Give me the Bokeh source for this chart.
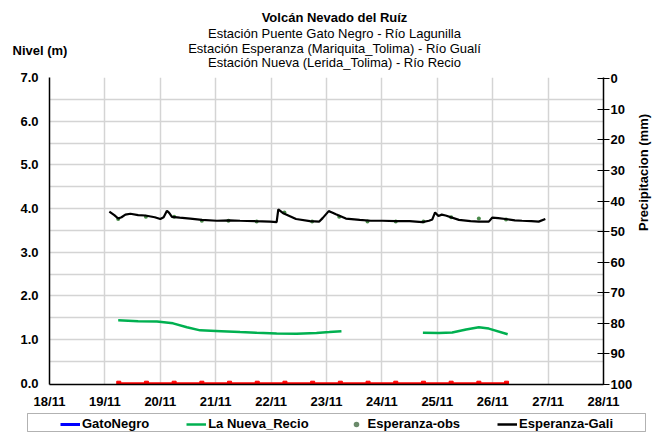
import math
from bokeh.plotting import figure
from bokeh.layouts import column, row
from bokeh.models import (Range1d, LinearAxis, FixedTicker, Legend, LegendItem,
                          NumeralTickFormatter, Label, BoxAnnotation)
from bokeh.embed import file_html
from bokeh.resources import INLINE

NaN = float("nan")

# ---- data ----
day_ticks = [18, 19, 20, 21, 22, 23, 24, 25, 26, 27, 28]
day_labels = ["18/11", "19/11", "20/11", "21/11", "22/11", "23/11", "24/11",
              "25/11", "26/11", "27/11", "28/11"]
level_ticks = [0, 1, 2, 3, 4, 5, 6, 7]
precip_ticks = [0, 10, 20, 30, 40, 50, 60, 70, 80, 90, 100]

gali_day = [19.08, 19.17, 19.24, 19.30, 19.37, 19.46, 19.60, 19.73, 19.90, 20.00,
            20.06, 20.12, 20.16, 20.21, 20.35, 20.54, 20.75, 21.02, 21.25, 21.44,
            21.70, 21.98, 22.10, 22.13, 22.17, 22.21, 22.45, 22.70, 22.87, 22.93,
            23.04, 23.10, 23.17, 23.35, 23.60, 23.80, 24.01, 24.25, 24.50, 24.73,
            24.85, 24.91, 24.96, 25.02, 25.08, 25.15, 25.39, 25.60, 25.75, 25.93,
            25.99, 26.10, 26.23, 26.40, 26.53, 26.70, 26.83, 26.95]
gali_level = [3.93, 3.85, 3.77, 3.80, 3.86, 3.88, 3.85, 3.84, 3.80, 3.76,
              3.80, 3.95, 3.90, 3.81, 3.79, 3.77, 3.74, 3.72, 3.73, 3.72,
              3.71, 3.70, 3.69, 3.98, 3.94, 3.90, 3.76, 3.71, 3.70, 3.78,
              3.94, 3.91, 3.87, 3.77, 3.74, 3.72, 3.72, 3.71, 3.71, 3.69,
              3.72, 3.75, 3.91, 3.83, 3.86, 3.84, 3.74, 3.71, 3.70, 3.70,
              3.79, 3.78, 3.76, 3.73, 3.72, 3.71, 3.70, 3.76]

obs_day = [19.24, 19.74, 20.25, 20.75, 21.23, 21.74, 22.24, 22.74, 23.23, 23.74,
           24.25, 24.75, 25.25, 25.75, 26.24]
obs_level = [3.76, 3.81, 3.81, 3.72, 3.72, 3.70, 3.91, 3.70, 3.81, 3.70,
             3.70, 3.70, 3.80, 3.77, 3.75]

recio_day = [19.24, 19.60, 19.94, 20.23, 20.48, 20.72, 21.10, 21.44, 21.74, 22.10,
             22.46, 22.82, 23.05, 23.27, NaN, 24.74, 25.03, 25.27, 25.52, 25.75,
             25.93, 26.27]
recio_level = [1.44, 1.42, 1.41, 1.37, 1.28, 1.21, 1.19, 1.17, 1.155, 1.14,
               1.13, 1.15, 1.17, 1.19, NaN, 1.155, 1.15, 1.16, 1.23, 1.28,
               1.25, 1.12]

zero_day = [19.25, 19.75, 20.25, 20.75, 21.25, 21.75, 22.25, 22.75, 23.25, 23.75,
            24.25, 24.75, 25.25, 25.75, 26.25]
zero_level = [0, 0, 0, 0, 0, 0, 0, 0, 0, 0, 0, 0, 0, 0, 0]

gato_day = [NaN]      # no GatoNegro readings in this period
gato_level = [NaN]

series_names = ["GatoNegro", "La Nueva_Recio", "Esperanza-obs", "Esperanza-Gali"]
title_lines = ["Volcán Nevado del Ruíz",
               "Estación Puente Gato Negro - Río Lagunilla",
               "Estación Esperanza (Mariquita_Tolima) - Río Gualí",
               "Estación Nueva (Lerida_Tolima) - Río Recio"]

FONT = "Liberation Sans"
W = 661
HEAD_H = 70
MAIN_H = 342
LEG_H = 435 - HEAD_H - MAIN_H


def bare(h):
    f = figure(width=W, height=h, output_backend="svg", toolbar_location=None,
               x_axis_type=None, y_axis_type=None,
               min_border_left=0, min_border_right=0, min_border_top=0, min_border_bottom=0)
    f.outline_line_color = None
    f.xgrid.visible = False
    f.ygrid.visible = False
    f.title.visible = False
    return f


# ---------------- header (titles) ----------------
head = bare(HEAD_H)
head.x_range = Range1d(0, W)
head.y_range = Range1d(HEAD_H, 0)
for i, (t, ty) in enumerate(zip(title_lines, [17, 32.5, 47.5, 61.5])):
    head.add_layout(Label(x=334, y=ty, text=t, text_align="center", text_baseline="middle",
                          text_font=FONT, text_font_size="13px",
                          text_font_style="bold" if i == 0 else "normal", text_color="black"))
head.add_layout(Label(x=12, y=50, text="Nivel (m)", text_align="left", text_baseline="middle",
                      text_font=FONT, text_font_size="13px", text_font_style="bold",
                      text_color="black"))

# ---------------- main chart ----------------
p = figure(width=W, height=MAIN_H, output_backend="svg", toolbar_location=None,
           x_range=Range1d(18, 28), y_range=Range1d(-0.03, 7),
           min_border_left=49, min_border_right=55, min_border_top=7, min_border_bottom=28)
p.outline_line_color = None
p.background_fill_color = "white"
p.border_fill_color = "white"
p.title.visible = False

p.xgrid.ticker = FixedTicker(ticks=day_ticks)
p.ygrid.ticker = FixedTicker(ticks=[0.5, 1, 1.5, 2, 2.5, 3, 3.5, 4, 4.5, 5, 5.5, 6, 6.5, 7])
for g in (p.xgrid, p.ygrid):
    g.grid_line_color = "#d4d4d4"
    g.grid_line_width = 1.5

xa = p.xaxis[0]
xa.ticker = FixedTicker(ticks=day_ticks)
xa.major_label_overrides = {d: l for d, l in zip(day_ticks, day_labels)}
xa.major_tick_line_color = None
xa.major_tick_out = 0
xa.major_tick_in = 0
xa.minor_tick_line_color = None
xa.axis_line_color = "black"
xa.axis_line_width = 1.5
xa.major_label_standoff = 9
xa.major_label_text_font = FONT
xa.major_label_text_font_style = "bold"
xa.major_label_text_font_size = "13px"
xa.major_label_text_color = "black"

ya = p.yaxis[0]
ya.ticker = FixedTicker(ticks=level_ticks)
ya.formatter = NumeralTickFormatter(format="0.0")
ya.major_tick_line_color = None
ya.major_tick_out = 0
ya.major_tick_in = 0
ya.minor_tick_line_color = None
ya.axis_line_color = "black"
ya.axis_line_width = 1.5
ya.major_label_standoff = 11
ya.major_label_text_font = FONT
ya.major_label_text_font_style = "bold"
ya.major_label_text_font_size = "13px"
ya.major_label_text_color = "black"

p.extra_y_ranges = {"precip": Range1d(100, -0.43)}
ra = LinearAxis(y_range_name="precip", ticker=FixedTicker(ticks=precip_ticks))
ra.major_tick_in = 6
ra.major_tick_out = 6
ra.major_tick_line_color = "black"
ra.minor_tick_line_color = None
ra.axis_line_color = "black"
ra.axis_line_width = 1.5
ra.major_label_standoff = 1
ra.major_label_text_font = FONT
ra.major_label_text_font_style = "bold"
ra.major_label_text_font_size = "13px"
ra.major_label_text_color = "black"
ra.axis_label = "Precipitacion (mm)"
ra.axis_label_orientation = math.pi / 2
ra.axis_label_standoff = 8
ra.axis_label_text_font = FONT
ra.axis_label_text_font_style = "bold"
ra.axis_label_text_font_size = "13px"
ra.axis_label_text_color = "black"
p.add_layout(ra, "right")

p.line(gato_day, gato_level, line_color="#0000ff", line_width=3)
p.line(recio_day, recio_level, line_color="#00b050", line_width=2.5)
p.scatter(obs_day, obs_level, marker="circle", size=4, fill_color="#4a8a4a", line_color=None)
p.line(gali_day, gali_level, line_color="black", line_width=2.2)
p.line(zero_day, zero_level, line_color="#ff0000", line_width=2)
p.scatter(zero_day, zero_level, marker="square", size=4, fill_color="#ff0000", line_color="#ff0000")

# ---------------- legend strip ----------------
leg = bare(LEG_H)
leg.x_range = Range1d(0, W)
leg.y_range = Range1d(0, LEG_H)
k_gato = leg.line([NaN], [NaN], line_color="#0000ff", line_width=3)
k_recio = leg.line([NaN], [NaN], line_color="#00b050", line_width=2.5)
k_obs = leg.scatter([NaN], [NaN], marker="circle", size=4, fill_color="#6a8a6a", line_color=None)
k_gali = leg.line([NaN], [NaN], line_color="black", line_width=2.5)
leg.add_layout(BoxAnnotation(left=27, right=645, bottom=4, top=LEG_H - 1, fill_color=None,
                             line_color="black", line_width=1))
legend = Legend(items=[LegendItem(label=n, renderers=[r]) for n, r in
                       zip(series_names, [k_gato, k_recio, k_obs, k_gali])],
                orientation="horizontal", location=(60, 4),
                padding=2, margin=0, spacing=37, label_standoff=2,
                glyph_width=20, glyph_height=14, label_height=14,
                border_line_color=None, background_fill_alpha=0,
                label_text_font=FONT, label_text_font_style="bold",
                label_text_font_size="13px", label_text_color="black")
leg.add_layout(legend, "center")

page = column(row(head, spacing=0), p, row(leg, spacing=0), spacing=0)
open("out.html", "w").write(file_html(page, INLINE))
